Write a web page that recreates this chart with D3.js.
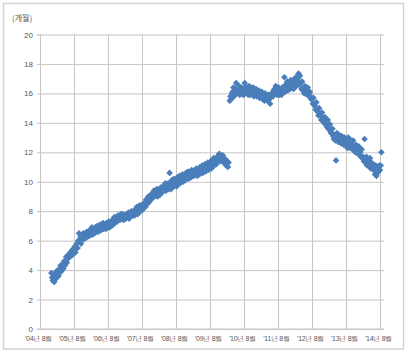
<!DOCTYPE html>
<html>
<head>
<meta charset="utf-8">
<script src="https://cdn.jsdelivr.net/npm/d3@7"></script>
<style>
  body { margin: 0; background: #fff; }
  svg { display: block; font-family: "Noto Sans CJK KR", "Noto Sans", sans-serif; }
</style>
</head>
<body>
<svg id="chart" width="411" height="357"></svg>
<script>
// x tick labels: one per year, every August
var tickYears = [2004, 2005, 2006, 2007, 2008, 2009, 2010, 2011, 2012, 2013, 2014];
var yTicks = [0, 2, 4, 6, 8, 10, 12, 14, 16, 18, 20];
var unitLabel = "(개월)";

// first run: Dec 2004 .. Feb 2010, roughly weekly readings, one row per month
var startA = [2004, 11];
var valuesA = [
    [3.8, 3.5, 3.3, 3.7], [3.2, 3.6, 3.4, 3.9], [3.7, 4.0, 3.6, 3.9], [4.0, 4.3, 3.9, 4.2],
    [4.4, 4.1, 4.6, 4.3], [4.6, 4.9, 4.5, 4.8], [4.8, 5.1, 4.9, 5.2], [5.2, 5.0, 5.4, 5.3],
    [5.3, 5.6, 5.2, 5.5], [5.8, 5.5, 6.0, 6.5], [6.0, 6.3, 5.8, 6.2], [6.2, 6.5, 6.1, 6.4],
    [6.4, 6.2, 6.6, 6.3], [6.5, 6.3, 6.7, 6.4], [6.6, 6.9, 6.4, 6.7], [6.7, 6.5, 6.9, 6.6],
    [6.7, 7.0, 6.6, 6.9], [6.8, 7.1, 6.7, 6.9], [6.9, 7.2, 6.8, 7.0], [7.0, 6.8, 7.2, 6.9],
    [7.1, 7.3, 6.9, 7.0], [7.2, 7.0, 7.4, 7.1], [7.3, 7.6, 7.2, 7.4], [7.5, 7.3, 7.7, 7.4],
    [7.6, 7.4, 7.8, 7.5], [7.5, 7.8, 7.4, 7.6], [7.7, 7.5, 7.8, 7.6], [7.7, 7.9, 7.5, 7.8],
    [7.8, 8.0, 7.7, 7.9], [7.9, 7.7, 8.1, 7.8], [8.0, 8.3, 7.8, 8.1], [8.1, 8.4, 8.0, 8.2],
    [8.3, 8.1, 8.5, 8.4], [8.6, 8.3, 8.8, 8.5], [8.7, 9.0, 8.6, 8.9], [9.0, 8.8, 9.2, 9.1],
    [9.1, 9.4, 9.0, 9.2], [9.2, 9.5, 9.0, 9.3], [9.4, 9.1, 9.6, 9.3], [9.5, 9.3, 9.7, 9.4],
    [9.6, 9.9, 9.4, 9.7], [9.6, 9.9, 9.5, 10.6], [9.8, 9.5, 10.1, 9.7], [9.9, 10.2, 9.7, 10.0],
    [10.0, 9.7, 10.3, 9.9], [10.1, 10.4, 9.9, 10.2], [10.2, 10.5, 10.0, 10.3], [10.3, 10.1, 10.6, 10.4],
    [10.4, 10.7, 10.2, 10.5], [10.5, 10.3, 10.8, 10.6], [10.6, 10.4, 10.8, 10.5], [10.6, 10.9, 10.4, 10.7],
    [10.7, 10.5, 11.0, 10.8], [10.8, 11.1, 10.6, 10.9], [10.9, 11.2, 10.7, 11.0], [11.0, 11.3, 10.8, 11.1],
    [11.1, 11.4, 10.9, 11.2], [11.3, 11.6, 11.1, 11.4], [11.5, 11.2, 11.7, 11.4], [11.6, 11.9, 11.4, 11.7],
    [11.7, 11.4, 11.8, 11.5], [11.6, 11.2, 11.5, 11.1], [11.4, 11.0, 11.3]
];

// second run: Mar 2010 .. Aug 2014
var startB = [2010, 2];
var valuesB = [
    [15.5, 15.8, 15.6, 16.0], [16.1, 16.4, 15.8, 16.3], [16.3, 16.7, 16.0, 16.2], [16.2, 16.5, 15.9, 16.3],
    [16.0, 16.4, 16.2, 15.9], [16.3, 16.7, 16.0, 16.4], [16.4, 16.1, 15.9, 16.5], [16.2, 15.9, 16.4, 16.0],
    [16.1, 16.4, 15.8, 16.0], [16.0, 16.3, 15.8, 16.1], [15.9, 16.2, 15.7, 16.0], [15.8, 16.1, 15.6, 15.9],
    [15.8, 15.5, 16.0, 15.7], [15.7, 15.5, 15.9, 15.6], [15.6, 15.3, 15.8, 16.0], [16.0, 15.8, 16.2, 16.3],
    [16.2, 16.5, 16.0, 15.9], [16.1, 16.4, 15.9, 16.2], [16.2, 15.9, 16.4, 16.1], [16.4, 17.1, 16.1, 16.6],
    [16.5, 16.8, 16.2, 16.6], [16.6, 16.3, 16.9, 16.4], [16.5, 16.9, 16.3, 16.7], [16.7, 17.1, 16.5, 16.9],
    [17.0, 17.35, 16.6, 17.2], [16.7, 16.3, 16.8, 16.2], [16.3, 16.0, 16.5, 16.2], [16.2, 15.9, 16.4, 16.1],
    [15.9, 16.1, 15.7, 15.6], [15.6, 15.3, 15.7, 15.2], [15.2, 14.9, 15.4, 14.8], [14.8, 14.5, 15.0, 14.6],
    [14.5, 14.2, 14.7, 14.3], [14.3, 14.0, 14.4, 13.9], [14.0, 13.7, 14.2, 13.6], [13.6, 13.9, 13.4, 13.3],
    [13.3, 13.6, 13.1, 12.9], [13.1, 12.8, 11.45, 13.3], [13.0, 12.7, 13.2, 12.8], [12.9, 12.6, 13.1, 12.7],
    [12.8, 12.5, 13.0, 12.6], [12.8, 12.5, 12.3, 13.0], [12.6, 12.9, 12.3, 12.4], [12.6, 12.2, 12.8, 12.3],
    [12.3, 12.0, 12.5, 12.1], [12.2, 11.9, 12.4, 11.8], [12.0, 11.7, 12.2, 11.6], [11.7, 11.4, 12.9, 11.3],
    [11.4, 11.7, 11.1, 11.3], [11.5, 11.1, 11.6, 10.9], [11.3, 10.9, 11.2, 10.8], [10.8, 10.5, 11.1, 10.4],
    [10.6, 11.0, 10.7, 11.1], [10.8, 11.1, 12.0]
];

var weekDays = [1, 9, 16, 24];

function toPoints(start, rows) {
    var pts = [];
    for (var m = 0; m < rows.length; m++) {
        for (var w = 0; w < rows[m].length; w++) {
            pts.push({date: new Date(start[0], start[1] + m, weekDays[w]), value: rows[m][w]});
        }
    }
    return pts;
}

var points = toPoints(startA, valuesA).concat(toPoints(startB, valuesB));

var plotLeft = 40, plotRight = 380, plotTop = 34.5, plotBottom = 329;
var gridColor = "#c6c6c6";
var textColor = "#595959";

var svg = d3.select("#chart");

// outer frame
svg.append("rect")
    .attr("x", 3.5).attr("y", 3.5)
    .attr("width", 400).attr("height", 345.5)
    .attr("fill", "#fff")
    .attr("stroke", "#d4d4d4")
    .attr("stroke-width", 1.5);

var x = d3.scaleTime()
    .domain([new Date(2004, 7, 1), new Date(2014, 7, 1)])
    .range([plotLeft, plotRight]);

var y = d3.scaleLinear()
    .domain([0, 20])
    .range([plotBottom, plotTop]);

// y axis with horizontal grid lines
var yAxis = svg.append("g")
    .attr("transform", "translate(" + plotLeft + ",0)")
    .call(d3.axisLeft(y).tickValues(yTicks).tickSize(3).tickPadding(4));
yAxis.select(".domain").attr("stroke", gridColor);
yAxis.selectAll(".tick line").attr("stroke", gridColor);
yAxis.selectAll(".tick").append("line")
    .attr("x1", 0).attr("x2", plotRight + 4 - plotLeft)
    .attr("stroke", gridColor);
yAxis.selectAll("text")
    .attr("fill", textColor)
    .style("font-size", "8px")
    .style("font-family", "'Liberation Sans', Arial, sans-serif");

// x axis with vertical grid lines
var xAxis = svg.append("g")
    .attr("transform", "translate(0," + plotBottom + ")")
    .call(d3.axisBottom(x)
        .tickValues(tickYears.map(function (yr) { return new Date(yr, 7, 1); }))
        .tickSize(-(plotBottom - plotTop))
        .tickPadding(5)
        .tickFormat(function (d) { return "'" + String(d.getFullYear()).slice(2) + "년 8월"; }));
xAxis.select(".domain").remove();
xAxis.selectAll(".tick line").attr("stroke", gridColor);
xAxis.selectAll("text")
    .attr("fill", textColor)
    .attr("dx", "-2px")
    .attr("dy", "1em")
    .style("font-size", "7px")
    .style("letter-spacing", "-0.3px");

// bottom baseline
svg.append("line")
    .attr("x1", plotLeft - 3).attr("x2", plotRight + 4)
    .attr("y1", y(0)).attr("y2", y(0))
    .attr("stroke", gridColor);

svg.append("text")
    .attr("x", 12).attr("y", 21)
    .attr("fill", textColor)
    .style("font-size", "8px")
    .text(unitLabel);

// diamond markers
var diamond = d3.symbol().type(d3.symbolSquare).size(22);
svg.append("g")
    .selectAll("path")
    .data(points)
    .join("path")
    .attr("d", diamond)
    .attr("transform", function (d) {
        return "translate(" + x(d.date) + "," + y(d.value) + ") rotate(45)";
    })
    .attr("fill", "#4a7ebb");
</script>
</body>
</html>
